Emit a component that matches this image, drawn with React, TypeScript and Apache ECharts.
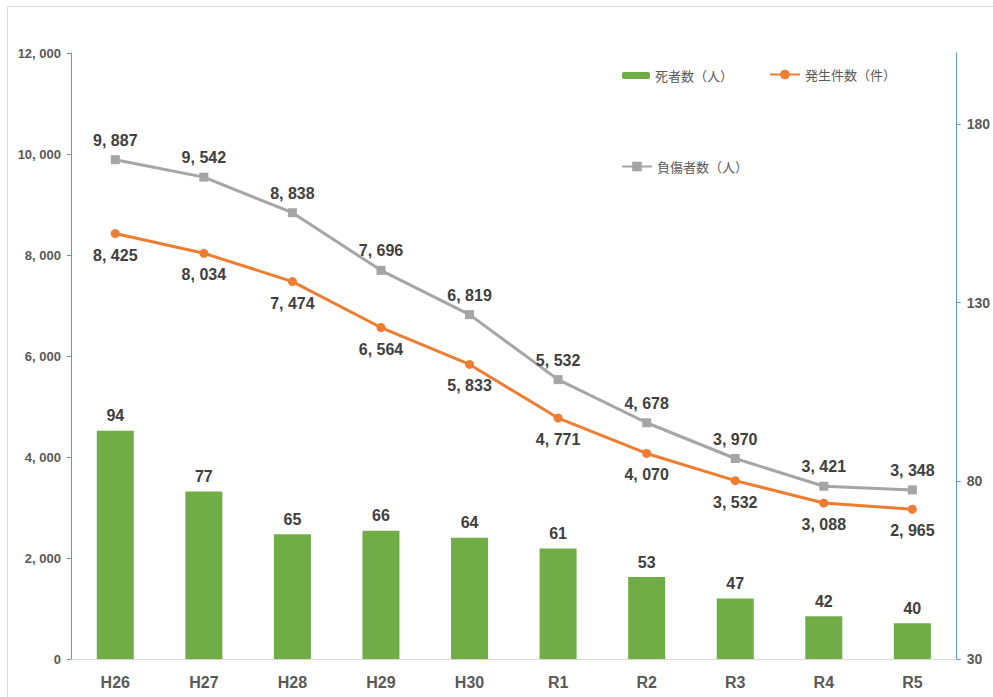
import React, { useEffect, useRef } from "react";
import * as echarts from "echarts";

const categories = ["H26", "H27", "H28", "H29", "H30", "R1", "R2", "R3", "R4", "R5"];
const deaths = [94, 77, 65, 66, 64, 61, 53, 47, 42, 40];
const incidents = [8425, 8034, 7474, 6564, 5833, 4771, 4070, 3532, 3088, 2965];
const injured = [9887, 9542, 8838, 7696, 6819, 5532, 4678, 3970, 3421, 3348];

const NUMF = '"Liberation Sans", Arial, sans-serif';
const CJK = '"Noto Sans CJK JP", "Noto Sans", sans-serif';

const fmt = (v: number) => v.toLocaleString("en-US").replace(/,/g, ", ");

export default function App() {
  const ref = useRef<HTMLDivElement>(null);
  useEffect(() => {
    if (!ref.current) return;
    const chart = echarts.init(ref.current, undefined, { renderer: "svg" });
    const axisBlue = "#5B9BD5";
    const legendText = { color: "#595959", fontSize: 13, fontFamily: CJK };
    chart.setOption({
      animation: false,
      backgroundColor: "#ffffff",
      graphic: [
        {
          type: "rect",
          shape: { x: 7.5, y: 6.5, width: 1100, height: 800 },
          style: { fill: "none", stroke: "#D9D9D9", lineWidth: 1 },
          silent: true,
        },
      ],
      grid: { left: 71, right: 34, top: 53, bottom: 38, containLabel: false },
      legend: [
        {
          data: ["死者数（人）"],
          left: 617,
          top: 64,
          itemWidth: 28,
          itemHeight: 7,
          textStyle: legendText,
        },
        {
          data: ["発生件数（件）"],
          left: 764,
          top: 63,
          itemWidth: 30,
          itemHeight: 12,
          textStyle: legendText,
        },
        {
          data: ["負傷者数（人）"],
          left: 616,
          top: 155,
          itemWidth: 30,
          itemHeight: 12,
          textStyle: legendText,
        },
      ],
      xAxis: {
        type: "category",
        data: categories,
        axisLine: { show: true, lineStyle: { color: "#D9D9D9", width: 1 } },
        axisTick: { show: false },
        axisLabel: {
          color: "#595959",
          fontSize: 16,
          fontWeight: "bold",
          fontFamily: NUMF,
          margin: 15,
        },
      },
      yAxis: [
        {
          type: "value",
          min: 0,
          max: 12000,
          interval: 2000,
          position: "left",
          axisLine: { show: true, lineStyle: { color: axisBlue, width: 1 } },
          axisTick: { show: true, length: 4, lineStyle: { color: axisBlue } },
          splitLine: { show: false },
          axisLabel: {
            color: "#595959",
            fontSize: 13,
            fontWeight: "bold",
            fontFamily: NUMF,
            margin: 10,
            formatter: (v: number) => fmt(v),
          },
        },
        {
          type: "value",
          min: 30,
          max: 200,
          interval: 50,
          position: "right",
          axisLine: { show: true, lineStyle: { color: axisBlue, width: 1 } },
          axisTick: { show: true, length: 4, lineStyle: { color: axisBlue } },
          splitLine: { show: false },
          axisLabel: {
            color: "#595959",
            fontSize: 14,
            fontWeight: "bold",
            fontFamily: NUMF,
            margin: 10,
            showMaxLabel: false,
          },
        },
      ],
      series: [
        {
          name: "死者数（人）",
          type: "bar",
          yAxisIndex: 1,
          data: deaths,
          barWidth: 37,
          itemStyle: { color: "#70AD47" },
          label: {
            show: true,
            position: "top",
            distance: 7,
            color: "#404040",
            fontSize: 16,
            fontWeight: "bold",
            fontFamily: NUMF,
          },
          z: 1,
        },
        {
          name: "発生件数（件）",
          type: "line",
          yAxisIndex: 0,
          data: incidents,
          symbol: "circle",
          symbolSize: 9,
          lineStyle: { color: "#ED7D31", width: 3 },
          itemStyle: { color: "#ED7D31" },
          label: {
            show: true,
            position: "bottom",
            distance: 9,
            color: "#404040",
            fontSize: 16,
            fontWeight: "bold",
            fontFamily: NUMF,
            formatter: (p: any) => fmt(p.value),
          },
          z: 3,
        },
        {
          name: "負傷者数（人）",
          type: "line",
          yAxisIndex: 0,
          data: injured,
          symbol: "rect",
          symbolSize: 9,
          lineStyle: { color: "#A5A5A5", width: 3 },
          itemStyle: { color: "#A5A5A5" },
          label: {
            show: true,
            position: "top",
            distance: 7,
            color: "#404040",
            fontSize: 16,
            fontWeight: "bold",
            fontFamily: NUMF,
            formatter: (p: any) => fmt(p.value),
          },
          z: 3,
        },
      ],
    });
    return () => chart.dispose();
  }, []);
  return (
    <div
      ref={ref}
      style={{ position: "fixed", left: 0, top: 0, width: 993, height: 697 }}
    />
  );
}
